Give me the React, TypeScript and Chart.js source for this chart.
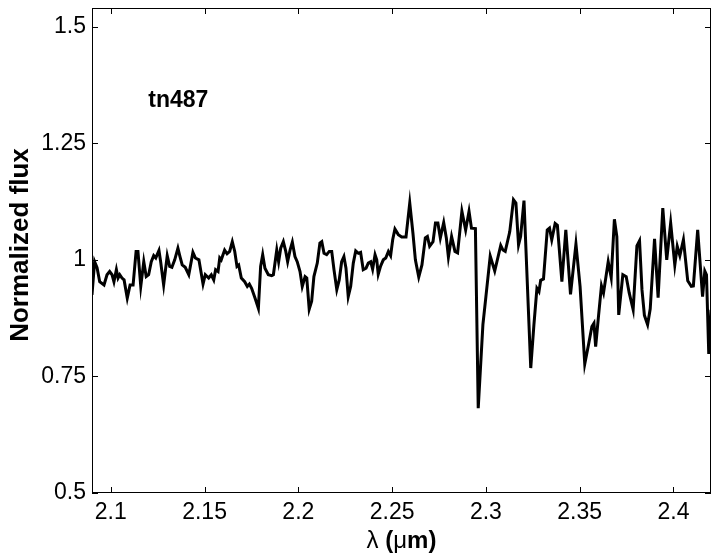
import React, { useEffect, useRef } from "react";
import { Chart, registerables } from "chart.js";

Chart.register(...registerables);

// ---- data ----
const wavelength = [
  2.0900, 2.0914, 2.0927, 2.0941, 2.0964, 2.0980, 2.0994, 2.1007, 2.1017, 2.1030, 2.1039, 2.1048, 2.1060, 2.1071, 2.1088, 2.1103, 2.1119, 2.1135, 2.1145, 2.1160,
  2.1176, 2.1189, 2.1202, 2.1216, 2.1229, 2.1240, 2.1257, 2.1266, 2.1282, 2.1301, 2.1314, 2.1326, 2.1341, 2.1358, 2.1369, 2.1381, 2.1397, 2.1416, 2.1438, 2.1451,
  2.1470, 2.1492, 2.1504, 2.1522, 2.1536, 2.1549, 2.1559, 2.1572, 2.1581, 2.1589, 2.1607, 2.1620, 2.1634, 2.1648, 2.1661, 2.1673, 2.1682, 2.1696, 2.1714, 2.1728,
  2.1739, 2.1751, 2.1769, 2.1787, 2.1799, 2.1810, 2.1822, 2.1840, 2.1858, 2.1867, 2.1885, 2.1895, 2.1906, 2.1920, 2.1933, 2.1943, 2.1956, 2.1968, 2.1982, 2.1994,
  2.2009, 2.2021, 2.2036, 2.2045, 2.2058, 2.2071, 2.2083, 2.2101, 2.2115, 2.2125, 2.2137, 2.2151, 2.2165, 2.2178, 2.2190, 2.2205, 2.2218, 2.2231, 2.2243, 2.2254,
  2.2266, 2.2279, 2.2293, 2.2306, 2.2320, 2.2332, 2.2346, 2.2361, 2.2373, 2.2386, 2.2396, 2.2409, 2.2418, 2.2426, 2.2439, 2.2453, 2.2466, 2.2480, 2.2492, 2.2503,
  2.2515, 2.2533,
  2.2551, 2.2574, 2.2594, 2.2611, 2.2624, 2.2642, 2.2659, 2.2677, 2.2688, 2.2700, 2.2718, 2.2731, 2.2744, 2.2757, 2.2775, 2.2789, 2.2800, 2.2817, 2.2835, 2.2849,
  2.2872, 2.2892, 2.2910, 2.2923, 2.2944, 2.2959, 2.2984, 2.3000, 2.3023, 2.3047, 2.3079, 2.3091, 2.3103, 2.3127, 2.3147, 2.3160, 2.3174, 2.3185, 2.3203, 2.3239,
  2.3256, 2.3272, 2.3283, 2.3292, 2.3307, 2.3327, 2.3339, 2.3351, 2.3369, 2.3381, 2.3405, 2.3426, 2.3451, 2.3480, 2.3502, 2.3527, 2.3547, 2.3565, 2.3576, 2.3585,
  2.3600, 2.3616, 2.3627, 2.3652, 2.3668, 2.3685, 2.3698, 2.3708, 2.3730, 2.3748, 2.3764, 2.3785, 2.3805, 2.3819, 2.3832, 2.3845, 2.3862, 2.3876, 2.3899, 2.3918,
  2.3943, 2.3964, 2.3985, 2.4007, 2.4020, 2.4034, 2.4053, 2.4076, 2.4095, 2.4106, 2.4129, 2.4155, 2.4167, 2.4176, 2.4188, 2.4200,
];

const flux = [
  0.925, 0.996, 0.983, 0.953, 0.946, 0.968, 0.975, 0.968, 0.953, 0.979, 0.961, 0.968, 0.961, 0.957, 0.918, 0.946, 0.946, 1.018, 1.018, 0.943,
  0.996, 0.964, 0.968, 0.996, 1.009, 1.004, 1.020, 0.996, 0.946, 1.009, 0.986, 0.984, 1.000, 1.025, 1.007, 0.989, 0.984, 0.968, 1.016, 1.004,
  1.000, 0.948, 0.968, 0.961, 0.968, 0.957, 0.979, 0.975, 1.004, 1.000, 1.021, 1.013, 1.018, 1.039, 1.018, 0.986, 0.989, 0.961, 0.953, 0.943,
  0.948, 0.939, 0.918, 0.896, 0.986, 1.011, 0.982, 0.968, 0.966, 0.968, 1.021, 0.996, 1.025, 1.039, 1.018, 0.996, 1.021, 1.038, 1.007, 0.996,
  0.975, 0.943, 0.964, 0.961, 0.894, 0.911, 0.964, 0.993, 1.036, 1.039, 1.014, 1.011, 1.018, 1.018, 0.979, 0.936, 0.957, 0.996, 1.007, 0.982,
  0.921, 0.943, 0.993, 1.019, 1.014, 1.016, 0.979, 0.982, 0.993, 0.996, 0.980, 1.011, 1.000, 0.969, 0.987, 1.000, 1.004, 1.018, 1.009, 1.043,
  1.066, 1.054,
  1.049, 1.049, 1.122, 1.057, 1.000, 0.963, 0.989, 1.047, 1.050, 1.029, 1.039, 1.079, 1.079, 1.047, 1.080, 1.047, 1.006, 1.050, 1.018, 1.015,
  1.104, 1.064, 1.104, 1.068, 1.067, 0.682, 0.861, 0.921, 1.008, 0.976, 1.031, 1.021, 1.018, 1.060, 1.129, 1.122, 1.032, 1.050, 1.127, 0.768,
  0.861, 0.939, 0.932, 0.956, 0.959, 1.064, 1.068, 1.043, 1.078, 1.074, 0.953, 1.064, 0.926, 1.034, 0.943, 0.777, 0.818, 0.857, 0.864, 0.814,
  0.878, 0.944, 0.929, 0.996, 0.962, 1.087, 1.050, 0.882, 0.968, 0.964, 0.929, 0.893, 1.030, 1.041, 0.936, 0.881, 0.861, 0.895, 1.045, 0.919,
  1.111, 1.000, 1.079, 0.989, 1.029, 1.009, 1.043, 0.955, 0.943, 0.944, 1.064, 0.921, 0.976, 0.968, 0.798, 0.893,
];

const xTicks = [2.1, 2.15, 2.2, 2.25, 2.3, 2.35, 2.4];
const xTickLabels = ["2.1", "2.15", "2.2", "2.25", "2.3", "2.35", "2.4"];
const yTicks = [0.5, 0.75, 1, 1.25, 1.5];
const yTickLabels = ["0.5", "0.75", "1", "1.25", "1.5"];

const xMin = 2.09;
const xMax = 2.42;
const yMin = 0.5;
const yMax = 1.54;

const objectName = "tn487";
const objectLabelX = 2.12;
const objectLabelY = 1.328;
const yTitle = "Normalized flux";

const FONT = "'Liberation Sans', Arial, Helvetica, sans-serif";

const framePlugin = {
  id: "matlabFrame",
  afterDraw(chart: any) {
    const { ctx, chartArea: a, scales } = chart;
    const xs = scales.x;
    const ys = scales.y;
    ctx.save();
    ctx.strokeStyle = "#000";
    ctx.lineWidth = 1;
    ctx.strokeRect(a.left + 0.5, a.top + 0.5, a.right - a.left - 1, a.bottom - a.top - 1);
    const tl = 6;
    ctx.beginPath();
    xTicks.forEach((v) => {
      const px = Math.round(xs.getPixelForValue(v)) + 0.5;
      ctx.moveTo(px, a.bottom);
      ctx.lineTo(px, a.bottom - tl);
      ctx.moveTo(px, a.top);
      ctx.lineTo(px, a.top + tl);
    });
    yTicks.forEach((v) => {
      const py = Math.round(ys.getPixelForValue(v)) + 0.5;
      ctx.moveTo(a.left, py);
      ctx.lineTo(a.left + tl, py);
      ctx.moveTo(a.right, py);
      ctx.lineTo(a.right - tl, py);
    });
    ctx.stroke();

    ctx.fillStyle = "#000";
    ctx.font = `bold 23px ${FONT}`;
    ctx.textAlign = "left";
    ctx.textBaseline = "alphabetic";
    ctx.fillText(objectName, xs.getPixelForValue(objectLabelX), ys.getPixelForValue(objectLabelY));

    ctx.save();
    ctx.translate(28, 245);
    ctx.rotate(-Math.PI / 2);
    ctx.textAlign = "center";
    ctx.font = `bold 26px ${FONT}`;
    ctx.fillText(yTitle, 0, 0);
    ctx.restore();

    const parts: [string, string][] = [
      ["λ", `24px ${FONT}`],
      [" (", `bold 24px ${FONT}`],
      ["μ", `24px ${FONT}`],
      ["m)", `bold 24px ${FONT}`],
    ];
    let total = 0;
    parts.forEach(([t, f]) => {
      ctx.font = f;
      total += ctx.measureText(t).width;
    });
    let cx = (a.left + a.right) / 2 - total / 2;
    ctx.textAlign = "left";
    const baseY = 548;
    parts.forEach(([t, f]) => {
      ctx.font = f;
      ctx.fillText(t, cx, baseY);
      cx += ctx.measureText(t).width;
    });
    ctx.restore();
  },
};

export default function App() {
  const ref = useRef<HTMLCanvasElement | null>(null);
  useEffect(() => {
    if (!ref.current) return;
    const points = wavelength.map((x, i) => ({ x, y: flux[i] }));
    const chart = new Chart(ref.current, {
      type: "line",
      data: {
        datasets: [
          {
            data: points,
            borderColor: "#000",
            borderWidth: 3,
            pointRadius: 0,
            tension: 0,
            fill: false,
          },
        ],
      },
      options: {
        responsive: false,
        animation: false,
        parsing: false,
        layout: { padding: { top: 8, right: 6, left: 0, bottom: 0 } },
        plugins: { legend: { display: false }, tooltip: { enabled: false }, title: { display: false } },
        scales: {
          x: {
            type: "linear",
            min: xMin,
            max: xMax,
            grid: { display: false, drawTicks: false },
            border: { display: false },
            afterBuildTicks: (s: any) => {
              s.ticks = xTicks.map((v) => ({ value: v }));
            },
            afterFit: (s: any) => {
              s.height = 64;
              s.paddingLeft = 0;
              s.paddingRight = 0;
            },
            ticks: {
              autoSkip: false,
              maxRotation: 0,
              padding: 6,
              color: "#000",
              font: { family: FONT, size: 23 },
              callback: (v: any) => {
                const i = xTicks.findIndex((t) => Math.abs(t - v) < 1e-9);
                return i >= 0 ? xTickLabels[i] : "";
              },
            },
          },
          y: {
            type: "linear",
            min: yMin,
            max: yMax,
            grid: { display: false, drawTicks: false },
            border: { display: false },
            afterBuildTicks: (s: any) => {
              s.ticks = yTicks.map((v) => ({ value: v }));
            },
            afterFit: (s: any) => {
              s.width = 92;
              s.paddingTop = 0;
              s.paddingBottom = 0;
            },
            ticks: {
              autoSkip: false,
              padding: 6,
              color: "#000",
              font: { family: FONT, size: 23 },
              callback: (v: any) => {
                const i = yTicks.findIndex((t) => Math.abs(t - v) < 1e-9);
                return i >= 0 ? yTickLabels[i] : "";
              },
            },
          },
        },
      },
      plugins: [framePlugin],
    } as any);
    return () => chart.destroy();
  }, []);

  return (
    <div style={{ position: "absolute", left: 0, top: 0, width: 717, height: 557, background: "#fff" }}>
      <canvas ref={ref} width={717} height={557} style={{ display: "block" }} />
    </div>
  );
}
